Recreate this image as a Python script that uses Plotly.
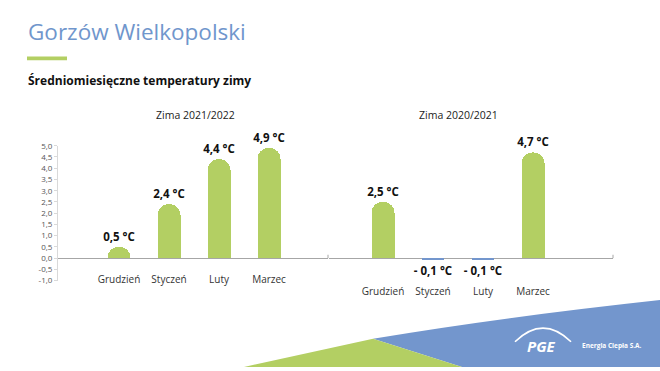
import plotly.graph_objects as go

# ---------------- data ----------------
months = ["Grudzień", "Styczeń", "Luty", "Marzec"]
temps_2122 = [0.5, 2.4, 4.4, 4.9]
temps_2021 = [2.5, -0.1, -0.1, 4.7]
title_2122 = "Zima 2021/2022"
title_2021 = "Zima 2020/2021"
ytick_vals = [-1.0, -0.5, 0.0, 0.5, 1.0, 1.5, 2.0, 2.5, 3.0, 3.5, 4.0, 4.5, 5.0]
ytick_text = [f"{v:.1f}".replace(".", ",") for v in ytick_vals]

# ---------------- style ----------------
W, H = 660, 371
GREEN = "#b3cf63"
BLUE = "#7396cd"
FONT = "Open Sans"


def lab(v):
    s = f"{abs(v):.1f}".replace(".", ",") + " °C"
    return ("- " + s) if v < 0 else s


def px(x):
    return x / W


def py(y):
    return 1 - y / H


def path(pts, close=True):
    s = ""
    for i, p in enumerate(pts):
        if p[0] == "Q":
            s += f" Q {px(p[1]):.4f},{py(p[2]):.4f} {px(p[3]):.4f},{py(p[4]):.4f}"
        else:
            s += (" M " if i == 0 else " L ") + f"{px(p[0]):.4f},{py(p[1]):.4f}"
    return s + (" Z" if close else "")


xpos = list(range(len(months)))

fig = go.Figure()
fig.add_trace(go.Bar(
    x=xpos, y=temps_2122, xaxis="x", yaxis="y", width=0.46,
    marker=dict(color=[GREEN if v >= 0 else BLUE for v in temps_2122], cornerradius="50%", line=dict(width=0)),
    text=[lab(v) for v in temps_2122], textposition="outside", constraintext="none", cliponaxis=False,
    textfont=dict(family=FONT, size=11.5, color="#111111", weight="bold"), hoverinfo="skip",
))
fig.add_trace(go.Bar(
    x=xpos, y=temps_2021, xaxis="x2", yaxis="y2", width=0.46,
    marker=dict(color=[GREEN if v >= 0 else BLUE for v in temps_2021], cornerradius="50%", line=dict(width=0)),
    text=[lab(v) for v in temps_2021], textposition="outside", constraintext="none", cliponaxis=False,
    textfont=dict(family=FONT, size=11.5, color="#111111", weight="bold"), hoverinfo="skip",
))

ydom = [py(283), py(144)]
tickfont_x = dict(family=FONT, size=10, color="#333333")

fig.update_layout(
    width=W, height=H, autosize=False,
    margin=dict(l=0, r=0, t=0, b=0),
    paper_bgcolor="white", plot_bgcolor="rgba(0,0,0,0)",
    showlegend=False, bargap=0,
    font=dict(family=FONT),
    xaxis=dict(domain=[px(58), px(328)], range=[(58 - 119) / 50, (328 - 119) / 50],
               tickvals=xpos, ticktext=months, showgrid=False, zeroline=False, showline=False,
               ticks="", tickfont=tickfont_x, anchor="free", position=py(274), fixedrange=True),
    yaxis=dict(domain=ydom, range=[-1, 5], tickvals=ytick_vals, ticktext=ytick_text,
               showgrid=False, showline=True, linecolor="#d9d9d9", linewidth=1,
               ticks="outside", ticklen=3, tickcolor="#d9d9d9",
               zeroline=True, zerolinecolor="#a6a6a6", zerolinewidth=1,
               tickfont=dict(family=FONT, size=8, color="#555555"), anchor="x", fixedrange=True),
    xaxis2=dict(domain=[px(329), px(613)], range=[(329 - 383) / 50, (613 - 383) / 50],
                tickvals=xpos, ticktext=months, showgrid=False, zeroline=False, showline=False,
                ticks="", tickfont=tickfont_x, anchor="free", position=py(287), fixedrange=True),
    yaxis2=dict(domain=ydom, range=[-1, 5], showgrid=False, showline=False, showticklabels=False,
                zeroline=True, zerolinecolor="#a6a6a6", zerolinewidth=1, anchor="x2", fixedrange=True),
)

shapes = []
# small end ticks on baselines
shapes.append(dict(type="line", xref="x domain", yref="y", x0=1, x1=1, y0=0, y1=0.15,
                   line=dict(color="#a6a6a6", width=1)))
shapes.append(dict(type="line", xref="x2 domain", yref="y2", x0=1, x1=1, y0=0, y1=0.15,
                   line=dict(color="#a6a6a6", width=1)))
# title underline
shapes.append(dict(type="rect", xref="paper", yref="paper", x0=px(27), x1=px(67), y0=py(56), y1=py(52),
                   fillcolor=GREEN, line=dict(width=0)))
# bottom decoration
shapes.append(dict(type="path", xref="paper", yref="paper", layer="below",
                   path=path([(373, 343), ("Q", 500, 321, 661, 303), (661, 372), (462, 372)]),
                   fillcolor=BLUE, line=dict(width=0)))
shapes.append(dict(type="path", xref="paper", yref="paper", layer="below",
                   path=path([(244, 372), (373, 343), (462, 372)]),
                   fillcolor="#b3cf63", line=dict(width=0)))
# PGE logo arc
shapes.append(dict(type="path", xref="paper", yref="paper",
                   path=path([(515, 346), ("Q", 543, 318, 571, 346)], close=False),
                   line=dict(color="white", width=1.6)))
fig.update_layout(shapes=shapes)

ann = []
ann.append(dict(text="Gorzów Wielkopolski", x=px(26), y=py(26), xref="paper", yref="paper",
                xanchor="left", yanchor="middle", showarrow=False,
                font=dict(family=FONT, size=22.5, color="#7096cc")))
ann.append(dict(text="<b>Średniomiesięczne temperatury zimy</b>", x=px(26), y=py(77), xref="paper", yref="paper",
                xanchor="left", yanchor="middle", showarrow=False,
                font=dict(family=FONT, size=12, color="#111111")))
ann.append(dict(text=title_2122, x=px(195), y=py(112), xref="paper", yref="paper",
                xanchor="center", yanchor="middle", showarrow=False,
                font=dict(family=FONT, size=10.5, color="#222222")))
ann.append(dict(text=title_2021, x=px(458), y=py(112), xref="paper", yref="paper",
                xanchor="center", yanchor="middle", showarrow=False,
                font=dict(family=FONT, size=10.5, color="#222222")))
ann.append(dict(text="<b><i>PGE</i></b>", x=px(541), y=py(350), xref="paper", yref="paper",
                xanchor="center", yanchor="middle", showarrow=False,
                font=dict(family=FONT, size=15, color="white")))
ann.append(dict(text="<b>Energia Ciepła S.A.</b>", x=px(580), y=py(350), xref="paper", yref="paper",
                xanchor="left", yanchor="middle", showarrow=False,
                font=dict(family=FONT, size=6.5, color="white")))
fig.update_layout(annotations=ann)

fig.write_html("out.html", config={"displayModeBar": False, "staticPlot": True},
               post_script="document.body.style.margin='0';document.body.style.overflow='hidden';")
